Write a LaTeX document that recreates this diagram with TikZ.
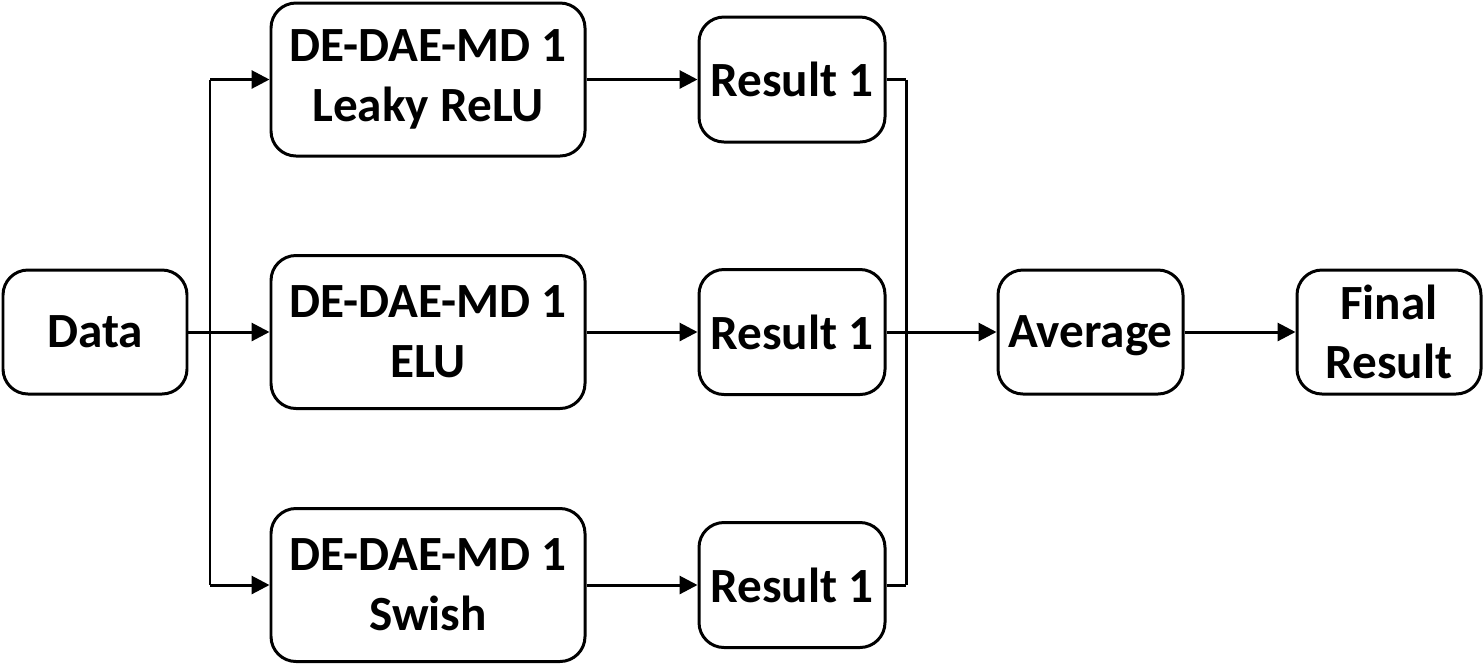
\documentclass[tikz,border=0pt]{standalone}
\usepackage{fontspec}
\setmainfont{Carlito}
\usetikzlibrary{arrows.meta,positioning,calc}

\tikzset{
  blk/.style={draw, line width=1.7pt, rounded corners=0.5cm, align=center, inner sep=0pt,
              font=\fontsize{28}{34}\selectfont\bfseries},
  conn/.style={line width=1.7pt},
  arr/.style={conn, -{Triangle[length=3.6mm,width=3.6mm]}}
}

\begin{document}
\begin{tikzpicture}
\useasboundingbox (0,0) rectangle (29.68,-13.38);

\def\splitX{4.20}
\def\mergeX{18.12}

% input and output side
\node[blk, minimum width=3.68cm, minimum height=2.48cm] (data) at (1.90,-6.64) {Data};
\node[blk, minimum width=3.70cm, minimum height=2.48cm, text depth=0pt] (avg) at (21.81,-6.64) {Average};
\node[blk, minimum width=3.68cm, minimum height=2.48cm] (final) at (27.78,-6.64) {Final\\Result};

% the three branches
\foreach \y/\act [count=\i] in {-1.59/Leaky ReLU, -6.64/ELU, -11.70/Swish}
{
  \node[blk, minimum width=6.28cm, minimum height=3.06cm] (de\i) at (8.56,\y) {DE-DAE-MD 1\\\act};
  \node[blk, minimum width=3.72cm, minimum height=2.50cm] (res\i) at (15.84,\y) {Result 1};
  \draw[arr] (\splitX,\y) -- (de\i.west);
  \draw[arr] (de\i) -- (res\i);
  \draw[conn] (res\i.east) -- (\mergeX,\y);
}

% split and merge bars
\draw[conn] (data.east) -- (\splitX,-6.64);
\draw[conn] (\splitX,-1.59) -- (\splitX,-11.70);
\draw[conn] (\mergeX,-1.59) -- (\mergeX,-11.70);
\draw[arr] (\mergeX,-6.64) -- (avg.west);
\draw[arr] (avg) -- (final);
\end{tikzpicture}
\end{document}
